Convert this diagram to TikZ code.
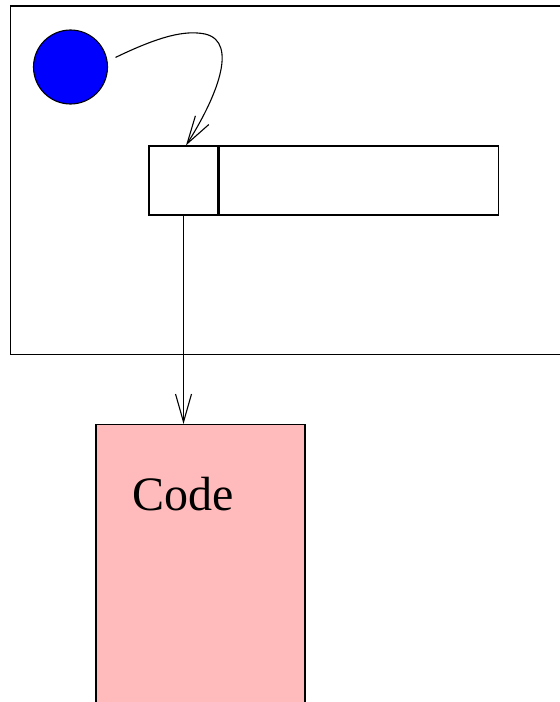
\documentclass[tikz,border=0pt]{standalone}
\usepackage{fontspec}
\setmainfont{Liberation Serif}
\usetikzlibrary{arrows.meta}
\definecolor{codepink}{RGB}{255,187,187}
\tikzset{
	box/.style={draw, line width=1.1bp, inner sep=0pt},
	link/.style={line width=1.1bp, -{Straight Barb[length=28bp,width=16bp,line width=1.1bp]}}
}
\begin{document}
\begin{tikzpicture}[x=1bp, y=-1bp]
				\clip (0,0) rectangle (560,702);
				
				% outer frame
				\node[box, anchor=north west, minimum width=620bp, minimum height=348.5bp] (frame) at (9.5,5.5){};
				
				% blue dot
				\node[box, circle, fill=blue, minimum size=74bp, outer sep=9bp] (dot) at (70.5,67){};
				
				% split box
				\node[box, minimum width=69bp, minimum height=69bp] (cell) at (183.5,180.5){};
				\node[box, anchor=west, minimum width=279bp, minimum height=69bp] (rest) at (cell.east){};
				
				% code segment
				\node[box, fill=codepink, anchor=north, minimum width=209bp, minimum height=400bp] (code) at (200.5,424){};
				\node[anchor=base, font=\fontsize{48bp}{58bp}\selectfont] (codetext) at (183.5,510){Code};
				
				\draw[link] (dot.12) .. controls (160,36) and (185,30) .. (205,34)
					.. controls (240,42) and (215,100) .. ([xshift=2.5bp]cell.north);
				\draw[link] (cell.south) -- (cell.south |- code.north);
				
\end{tikzpicture}
\end{document}
